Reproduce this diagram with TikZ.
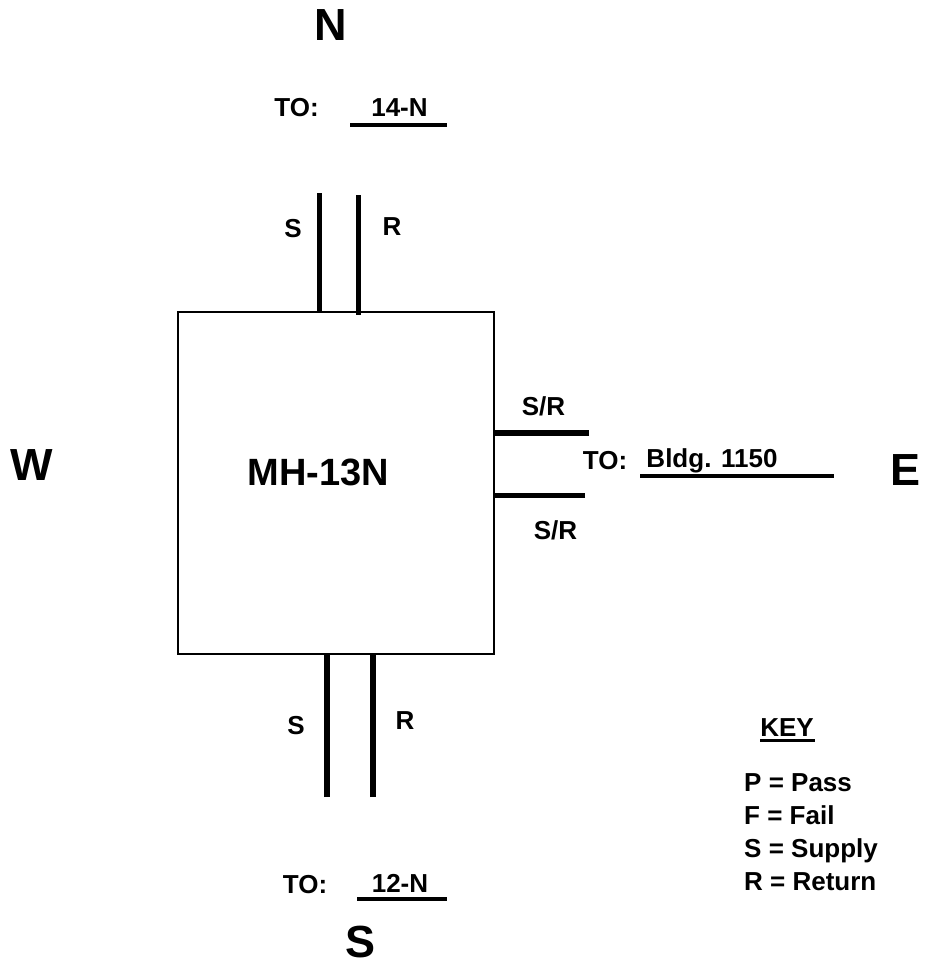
\documentclass[tikz,border=0pt]{standalone}
\usepackage{fontspec}
\setmainfont{Liberation Sans}
\tikzset{
  label/.style={inner sep=0pt,anchor=base,font=\bfseries\fontsize{26}{30}\selectfont},
  heading/.style={inner sep=0pt,font=\bfseries\fontsize{45}{50}\selectfont},
  pipe/.style={line width=5.5pt},
  rule/.style={line width=4pt}
}
\begin{document}
\begin{tikzpicture}[x=1pt,y=-1pt]
  \useasboundingbox (0,0) rectangle (924,963);
  \node[draw,line width=2.8pt,minimum width=316pt,minimum height=342pt,inner sep=0pt] (mh) at (336,483) {};
  \node[inner sep=0pt,font=\bfseries\fontsize{38}{42}\selectfont] (name) at (318.5,472) {MH-13N};
  \node[heading] (north) at (331,25) {N};
  \node[heading] (south) at (361,942) {S};
  \node[heading] (west) at (32,465) {W};
  \node[heading] (east) at (905,470) {E};
  % north side
  \node[label] (tonorth) at (296.5,117) {TO:};
  \node[label] (dnorth) at (399.5,117) {14-N};
  \coordinate (na) at (350,125);
  \coordinate (nb) at (447,125);
  \draw[rule] (na) -- (nb);
  \coordinate (ns) at (319.5,193);
  \coordinate (nr) at (358.5,195);
  \draw[pipe] (ns) -- (ns |- mh.north);
  \draw[pipe] (nr) -- ([yshift=-4pt]nr |- mh.north);
  \node[label] (ls) at (293,237) {S};
  \node[label] (lr) at (392,235) {R};
  % east side
  \coordinate (ea) at (589,433);
  \coordinate (eb) at (585,495.5);
  \draw[pipe] (ea) -- (ea -| mh.east);
  \draw[pipe] (eb) -- (eb -| mh.east);
  \node[label] (es) at (543.5,415) {S/R};
  \node[label] (er) at (555.5,539) {S/R};
  \node[label] (toeast) at (605,469) {TO:};
  \node[label] (deast) at (712,467) {Bldg. 1150};
  \coordinate (ec) at (640,476);
  \coordinate (ed) at (834,476);
  \draw[rule] (ec) -- (ed);
  % south side
  \coordinate (ss) at (327,797);
  \coordinate (sr) at (373,797);
  \draw[pipe] (ss) -- (ss |- mh.south);
  \draw[pipe] (sr) -- (sr |- mh.south);
  \node[label] (bs) at (296,734) {S};
  \node[label] (br) at (405,729) {R};
  \node[label] (tosouth) at (305,893) {TO:};
  \node[label] (dsouth) at (400,892) {12-N};
  \coordinate (sa) at (357,899);
  \coordinate (sb) at (447,899);
  \draw[rule] (sa) -- (sb);
  % key
  \node[label] (key) at (787,736) {KEY};
  \coordinate (ka) at (760,740);
  \coordinate (kb) at (815,740);
  \draw[line width=3pt] (ka) -- (kb);
  \node[label,anchor=base west] (kp) at (744,791) {P = Pass};
  \node[label,anchor=base west] (kf) at (744,824) {F = Fail};
  \node[label,anchor=base west] (ks) at (744,857) {S = Supply};
  \node[label,anchor=base west] (kr) at (744,890) {R = Return};
\end{tikzpicture}
\end{document}
